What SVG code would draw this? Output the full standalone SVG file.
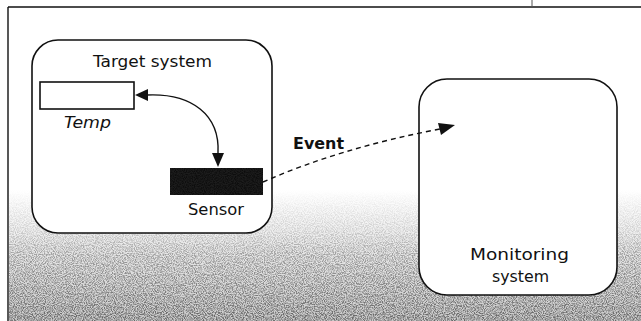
<svg xmlns="http://www.w3.org/2000/svg" width="641" height="321" viewBox="0 0 641 321">
<defs>
<style>
.box{fill:#fff;stroke:#111;stroke-width:1.6}
.t{font-family:"DejaVu Sans","Liberation Sans",sans-serif;font-size:16px;fill:#111}
.ln{fill:none;stroke:#111;stroke-width:1.4}
.ah{fill:#111}
</style>
<linearGradient id="fade" x1="0" y1="0" x2="0" y2="1">
<stop offset="0" stop-color="#000" stop-opacity="0"/>
<stop offset="0.3" stop-color="#000" stop-opacity="0.14"/>
<stop offset="0.5" stop-color="#000" stop-opacity="0.32"/>
<stop offset="1" stop-color="#000" stop-opacity="0.5"/>
</linearGradient>
<linearGradient id="tone" x1="0" y1="0" x2="0" y2="1">
<stop offset="0" stop-color="#ddd" stop-opacity="0"/>
<stop offset="0.45" stop-color="#d8d8d8" stop-opacity="0.6"/>
<stop offset="1" stop-color="#cacaca" stop-opacity="1"/>
</linearGradient>
<filter id="grain" x="0" y="0" width="100%" height="100%">
<feTurbulence type="fractalNoise" baseFrequency="0.9" numOctaves="2" seed="7" result="n"/>
<feColorMatrix in="n" type="matrix" values="0 0 0 0 0  0 0 0 0 0  0 0 0 0 0  3 0 0 0 -1.1" result="m"/>
<feComposite in="m" in2="SourceGraphic" operator="in"/>
</filter>
</defs>
<rect width="641" height="321" fill="#fff"/>
<g id="background">
<rect x="9" y="190" width="632" height="131" fill="url(#tone)"/>
<rect x="9" y="190" width="632" height="131" fill="url(#fade)" filter="url(#grain)"/>
</g>
<g id="frame">
<line x1="8" y1="7" x2="641" y2="7" class="ln"/>
<line x1="8" y1="7" x2="8" y2="321" class="ln"/>
<line x1="532" y1="0" x2="532" y2="7" stroke="#555" stroke-width="1"/>
</g>
<g id="target-system">
<rect x="32" y="40" width="240" height="193" rx="26" class="box"/>
<text x="93" y="67" class="t" textLength="119" lengthAdjust="spacingAndGlyphs">Target system</text>
</g>
<g id="temp">
<rect x="40" y="82" width="94" height="27" class="box" stroke-width="1.3"/>
<text x="64" y="128" class="t" font-style="italic" textLength="47" lengthAdjust="spacingAndGlyphs">Temp</text>
</g>
<g id="sensor">
<rect x="170" y="168" width="93" height="27" fill="#1c1c1c"/>
<rect x="170" y="168" width="93" height="27" fill="#777" opacity="0.5" filter="url(#grain)"/>
<text x="188" y="215" class="t" textLength="56" lengthAdjust="spacingAndGlyphs">Sensor</text>
</g>
<g id="monitoring-system">
<rect x="419" y="79" width="198" height="216" rx="28" class="box"/>
<text x="470" y="260" class="t" textLength="99" lengthAdjust="spacingAndGlyphs">Monitoring</text>
<text x="492" y="282" class="t" textLength="57" lengthAdjust="spacingAndGlyphs">system</text>
</g>
<g id="connectors">
<path d="M147,95 C192,93 220,115 218,153" class="ln"/>
<polygon points="135,95 148,89 148,101" class="ah"/>
<polygon points="218,167 212,153 224,153" class="ah"/>
<path d="M263,182 Q340,148 440,129" class="ln" stroke-dasharray="5,4"/>
<polygon points="455,125 438,123 441,135" class="ah"/>
<text x="293" y="149" class="t" font-weight="bold" textLength="51" lengthAdjust="spacingAndGlyphs">Event</text>
</g>
</svg>
